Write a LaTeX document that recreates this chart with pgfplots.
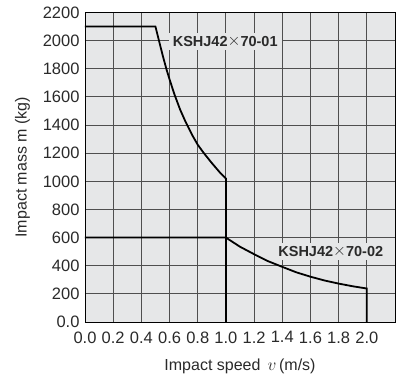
\documentclass[border=0pt]{standalone}
\usepackage{fontspec}
\setmainfont{Liberation Sans}
\usepackage{pgfplots}
\pgfplotsset{compat=1.18}
\definecolor{bgc}{HTML}{E6E7E8}
\definecolor{gridc}{HTML}{4F4F4F}
\definecolor{txt}{HTML}{2A2A2A}
\newcommand{\tms}{\raisebox{0.05em}{\scalebox{1.15}{$\times$}}}
\begin{document}
\begin{tikzpicture}
\begin{axis}[
  scale only axis,
  width=310pt, height=309.5pt,
  xmin=0, xmax=2.2, ymin=0, ymax=2200,
  axis background/.style={fill=bgc},
  xtick={0,0.2,0.4,0.6,0.8,1.0,1.2,1.4,1.6,1.8,2.0},
  xticklabels={0.0,0.2,0.4,0.6,0.8,1.0,1.2,1.4,1.6,1.8,2.0},
  ytick={0,200,400,600,800,1000,1200,1400,1600,1800,2000,2200},
  yticklabels={0.0,200,400,600,800,1000,1200,1400,1600,1800,2000,2200},
  major tick length=0pt,
  grid=major,
  grid style={gridc, line width=0.9pt},
  axis line style={black, line width=0.9pt},
  /pgf/number format/assume math mode=true,
  tick label style={font=\fontsize{16.5}{18}\selectfont, text=txt},
  xticklabel style={yshift=-6pt},
  yticklabel style={xshift=-2pt},
  xlabel={Impact speed \,$v$\,(m/s)},
  ylabel={Impact mass m (kg)},
  label style={font=\fontsize{16}{18}\selectfont, text=txt},
  xlabel style={yshift=-9pt},
  ylabel style={yshift=6pt},
]
\addplot[black, line width=1.8pt] coordinates {
(0,2100) (0.5,2100) (0.525,2000) (0.55,1900) (0.58,1790) (0.6,1725) (0.634,1620)
(0.675,1510) (0.715,1420) (0.76,1330) (0.8,1260) (0.84,1205) (0.9,1130)
(0.958,1062) (1.0,1020) (1.0,0)
};
\addplot[black, line width=1.8pt] coordinates {
(0,600) (1.0,600) (1.1,535) (1.2,482) (1.3,432) (1.4,392) (1.5,353) (1.6,322)
(1.7,295) (1.8,273) (1.9,254) (2.0,238) (2.0,0)
};
\node[fill=bgc, inner xsep=4pt, inner ysep=3pt, font=\bfseries\fontsize{14.5}{16}\selectfont, text=txt] at (axis cs:0.995,1994) {KSHJ42\tms70-01};
\node[fill=bgc, inner xsep=4pt, inner ysep=3pt, font=\bfseries\fontsize{14.5}{16}\selectfont, text=txt] at (axis cs:1.744,500) {KSHJ42\tms70-02};
\end{axis}
\useasboundingbox (-85pt,-49pt) rectangle (313pt,322pt);
\end{tikzpicture}
\end{document}
